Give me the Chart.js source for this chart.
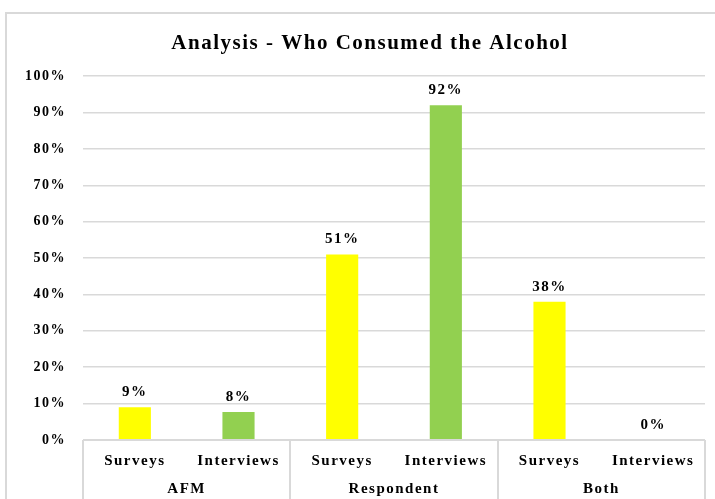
<!DOCTYPE html>
<html>
<head>
<meta charset="utf-8">
<script src="https://cdn.jsdelivr.net/npm/chart.js@4/dist/chart.umd.min.js"></script>
<style>
  html, body { margin: 0; padding: 0; overflow: hidden; background: #fff; }
  #chart { position: absolute; left: 0; top: 0; }
  #frame {
    position: absolute; left: 5px; top: 12px; width: 740px; height: 500px;
    border: 2px solid #d9d9d9; pointer-events: none;
  }
</style>
</head>
<body>
<canvas id="chart" width="740" height="499"></canvas>
<div id="frame"></div>
<script>
// Chart data
const barLabels = ['Surveys', 'Interviews', 'Surveys', 'Interviews', 'Surveys', 'Interviews'];
const groupLabels = ['AFM', 'Respondent', 'Both'];
const surveyValues = [9, 51, 38];
const interviewValues = [7.7, 92, 0];
const yTicks = [0, 10, 20, 30, 40, 50, 60, 70, 80, 90, 100];

const SURVEY_COLOR = '#ffff00';
const INTERVIEW_COLOR = '#92d050';
const GRID_COLOR = '#d9d9d9';
const FONT = '"Liberation Serif", "Times New Roman", serif';

// interleave survey / interview values per group
const values = [];
const colors = [];
groupLabels.forEach((g, i) => {
  values.push(surveyValues[i], interviewValues[i]);
  colors.push(SURVEY_COLOR, INTERVIEW_COLOR);
});

// The source text is set wide, so open up the letters a bit
const wideText = {
  id: 'wideText',
  beforeDraw(chart) {
    chart.ctx.letterSpacing = '1.5px';
  }
};

// Value labels above each bar
const valueLabels = {
  id: 'valueLabels',
  afterDatasetsDraw(chart) {
    const ctx = chart.ctx;
    const meta = chart.getDatasetMeta(0);
    ctx.save();
    ctx.font = 'bold 15px ' + FONT;
    ctx.fillStyle = '#000';
    ctx.textAlign = 'center';
    ctx.textBaseline = 'alphabetic';
    meta.data.forEach((bar, i) => {
      ctx.fillText(Math.round(values[i]) + '%', bar.x, bar.y - 11);
    });
    ctx.restore();
  }
};

// Vertical dividers between the groups, below the baseline
const groupDividers = {
  id: 'groupDividers',
  afterDraw(chart) {
    const ctx = chart.ctx;
    const x = chart.scales.x;
    const bottom = chart.chartArea.bottom;
    const edges = [x.left];
    for (let i = 1; i < groupLabels.length; i++) {
      const a = x.getPixelForValue(i * 2 - 1);
      const b = x.getPixelForValue(i * 2);
      edges.push((a + b) / 2);
    }
    edges.push(x.right);
    ctx.save();
    ctx.strokeStyle = GRID_COLOR;
    ctx.lineWidth = 2;
    edges.forEach(px => {
      ctx.beginPath();
      ctx.moveTo(Math.round(px), bottom);
      ctx.lineTo(Math.round(px), chart.height);
      ctx.stroke();
    });
    // baseline
    ctx.beginPath();
    ctx.moveTo(x.left, bottom);
    ctx.lineTo(x.right, bottom);
    ctx.stroke();
    ctx.restore();
  }
};

new Chart(document.getElementById('chart'), {
  type: 'bar',
  data: {
    labels: barLabels,
    datasets: [{
      data: values,
      backgroundColor: colors,
      borderWidth: 0,
      barPercentage: 0.31,
      categoryPercentage: 1
    }]
  },
  options: {
    responsive: false,
    animation: false,
    layout: { padding: 0 },
    plugins: {
      legend: { display: false },
      tooltip: { enabled: false },
      title: {
        display: true,
        text: 'Analysis - Who Consumed the Alcohol',
        color: '#000',
        font: { family: FONT, size: 21, weight: 'bold' },
        padding: { top: 31, bottom: 20 }
      }
    },
    scales: {
      y: {
        min: 0,
        max: 100,
        afterBuildTicks(scale) {
          scale.ticks = yTicks.map(v => ({ value: v }));
        },
        afterFit(scale) { scale.width = 83; },
        border: { display: false },
        grid: { color: GRID_COLOR, lineWidth: 1.5, drawTicks: false },
        ticks: {
          padding: 17,
          color: '#000',
          font: { family: FONT, size: 14, weight: 'bold' },
          callback: v => v + '%'
        }
      },
      // empty right margin, keeps the title centred on the whole frame
      yRight: {
        position: 'right',
        afterFit(scale) { scale.width = 35; },
        border: { display: false },
        grid: { display: false, drawTicks: false },
        ticks: { display: false }
      },
      x: {
        grid: { display: false, drawTicks: false },
        border: { display: false },
        afterFit(scale) { scale.height = 34; },
        ticks: {
          padding: 12,
          color: '#000',
          maxRotation: 0,
          font: { family: FONT, size: 15, weight: 'bold' }
        }
      },
      x2: {
        type: 'category',
        labels: groupLabels,
        position: 'bottom',
        offset: true,
        grid: { display: false, drawTicks: false },
        border: { display: false },
        afterFit(scale) { scale.height = 25; },
        ticks: {
          padding: 6,
          color: '#000',
          maxRotation: 0,
          font: { family: FONT, size: 15, weight: 'bold' }
        }
      }
    }
  },
  plugins: [wideText, valueLabels, groupDividers]
});
</script>
</body>
</html>
